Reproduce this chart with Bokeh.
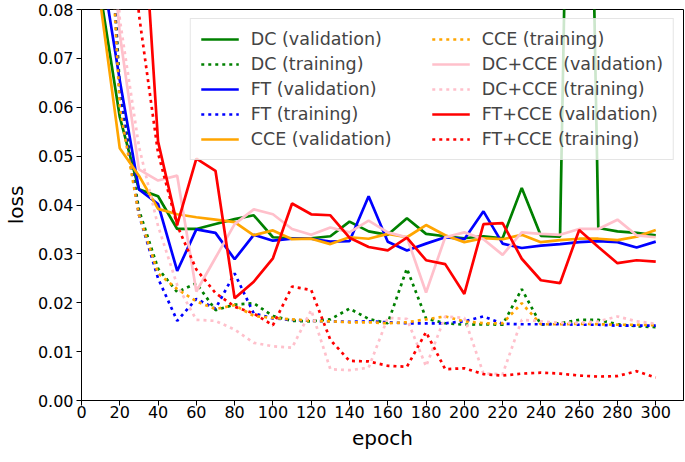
from bokeh.plotting import figure
from bokeh.models import Range1d, FixedTicker, PrintfTickFormatter, Legend, LegendItem
from bokeh.embed import file_html
from bokeh.resources import INLINE

epochs = [10, 20, 30, 40, 50, 60, 70, 80, 90, 100, 110, 120, 130, 140, 150,
          160, 170, 180, 190, 200, 210, 220, 230, 240, 250, 260, 270, 280, 290, 300]

dc_val = [0.083, 0.058, 0.0432, 0.0418, 0.0351, 0.0351, 0.0361, 0.0371, 0.0379, 0.0334,
          0.0332, 0.0332, 0.0336, 0.0366, 0.0346, 0.0339, 0.0373, 0.0341, 0.0336, 0.0332,
          0.0336, 0.0332, 0.0435, 0.0337, 0.0335, 0.25, 0.0353, 0.0346, 0.0343, 0.0338]
dc_train = [0.135, 0.064, 0.039, 0.027, 0.0222, 0.024, 0.0185, 0.0196, 0.0199, 0.0173,
            0.0163, 0.0162, 0.0166, 0.0188, 0.0167, 0.0158, 0.027, 0.0168, 0.0158, 0.0155,
            0.0156, 0.0155, 0.0228, 0.0155, 0.0158, 0.0165, 0.0165, 0.0156, 0.0152, 0.015]
ft_val = [0.09, 0.0655, 0.0432, 0.0402, 0.0265, 0.035, 0.0343, 0.0289, 0.0339, 0.0327,
          0.0331, 0.0331, 0.0325, 0.0326, 0.0418, 0.0325, 0.0307, 0.0321, 0.0334, 0.033,
          0.0387, 0.0321, 0.0312, 0.0317, 0.032, 0.0324, 0.0326, 0.0324, 0.0313, 0.0325]
ft_train = [0.135, 0.062, 0.038, 0.025, 0.0163, 0.0208, 0.0188, 0.026, 0.0178, 0.0168,
            0.0165, 0.0163, 0.0162, 0.0161, 0.0162, 0.016, 0.0158, 0.0158, 0.0158, 0.0162,
            0.0172, 0.0157, 0.0156, 0.0156, 0.0156, 0.0155, 0.0155, 0.0153, 0.0153, 0.0153]
cce_val = [0.081, 0.0516, 0.046, 0.0392, 0.0381, 0.0375, 0.037, 0.0365, 0.0338, 0.0348,
           0.033, 0.0331, 0.032, 0.0334, 0.0331, 0.0341, 0.0334, 0.0359, 0.0338, 0.0324,
           0.0332, 0.033, 0.0339, 0.0324, 0.0328, 0.0331, 0.0331, 0.0328, 0.0335, 0.0349]
cce_train = [0.135, 0.060, 0.038, 0.026, 0.0228, 0.0203, 0.0187, 0.0195, 0.0173, 0.0169,
             0.0166, 0.0163, 0.0162, 0.016, 0.016, 0.0158, 0.016, 0.0166, 0.0172, 0.0162,
             0.0158, 0.0158, 0.0199, 0.0156, 0.0156, 0.0157, 0.0156, 0.0155, 0.0155, 0.0154]
dccce_val = [0.12, 0.075, 0.0473, 0.045, 0.046, 0.0223, 0.0292, 0.0361, 0.0391, 0.0381,
             0.0351, 0.0339, 0.0354, 0.0344, 0.0368, 0.0344, 0.0334, 0.0221, 0.0334, 0.0344,
             0.033, 0.0298, 0.0344, 0.0341, 0.0339, 0.0351, 0.0351, 0.037, 0.0338, 0.0334]
dccce_train = [0.14, 0.078, 0.052, 0.0357, 0.0236, 0.0165, 0.0163, 0.0145, 0.0118, 0.0111,
               0.0108, 0.0185, 0.0064, 0.0062, 0.0067, 0.0169, 0.0167, 0.007, 0.0172, 0.0169,
               0.0055, 0.0054, 0.0165, 0.0162, 0.0159, 0.0159, 0.0162, 0.0172, 0.0162, 0.0157]
ftcce_val = [0.2, 0.16, 0.114, 0.053, 0.036, 0.0495, 0.047, 0.0209, 0.0243, 0.0291,
             0.0403, 0.0381, 0.0379, 0.0333, 0.0314, 0.0307, 0.0333, 0.0287, 0.0279, 0.0218,
             0.0361, 0.0363, 0.029, 0.0246, 0.024, 0.0349, 0.0314, 0.0281, 0.0287, 0.0284]
ftcce_train = [0.2, 0.13, 0.079, 0.0506, 0.0358, 0.0268, 0.022, 0.0192, 0.0178, 0.0154,
               0.0233, 0.0226, 0.0124, 0.0081, 0.008, 0.0071, 0.0069, 0.014, 0.0064, 0.0066,
               0.0054, 0.0051, 0.0055, 0.0057, 0.0055, 0.0051, 0.0049, 0.005, 0.006, 0.0047]

labels = ["DC (validation)", "DC (training)", "FT (validation)", "FT (training)",
          "CCE (validation)", "CCE (training)", "DC+CCE (validation)", "DC+CCE (training)",
          "FT+CCE (validation)", "FT+CCE (training)"]
series = [dc_val, dc_train, ft_val, ft_train, cce_val, cce_train,
          dccce_val, dccce_train, ftcce_val, ftcce_train]
colors = ["green", "green", "blue", "blue", "orange", "orange",
          "pink", "pink", "red", "red"]

x_ticks = [0, 20, 40, 60, 80, 100, 120, 140, 160, 180, 200, 220, 240, 260, 280, 300]
y_ticks = [0.0, 0.01, 0.02, 0.03, 0.04, 0.05, 0.06, 0.07, 0.08]

FONT = "DejaVu Sans"

p = figure(width=685, height=462, output_backend="svg", toolbar_location=None,
           x_range=Range1d(0, 314.5), y_range=Range1d(0, 0.08),
           min_border_left=80, min_border_right=2, min_border_top=9, min_border_bottom=62)
p.xgrid.visible = False
p.ygrid.visible = False
p.outline_line_color = "black"
p.outline_line_width = 1
p.outline_line_alpha = 1

for ax in (p.xaxis[0], p.yaxis[0]):
    ax.minor_tick_line_color = None
    ax.major_tick_out = 5
    ax.major_tick_in = 0
    ax.axis_line_color = "black"
    ax.major_tick_line_color = "black"
    ax.major_label_text_font = FONT
    ax.major_label_text_font_size = "16px"
    ax.major_label_text_color = "black"
    ax.axis_label_text_font = FONT
    ax.axis_label_text_font_size = "20px"
    ax.axis_label_text_font_style = "normal"
    ax.axis_label_text_color = "black"

p.xaxis.major_label_standoff = 0
p.xaxis.axis_label_standoff = 5
p.yaxis.major_label_standoff = 3
p.yaxis.axis_label_standoff = 7

p.xaxis.ticker = FixedTicker(ticks=x_ticks)
p.yaxis.ticker = FixedTicker(ticks=y_ticks)
p.yaxis.formatter = PrintfTickFormatter(format="%.2f")
p.xaxis.axis_label = "epoch"
p.yaxis.axis_label = "loss"

items = []
for lab, ys, col in zip(labels, series, colors):
    dash = "solid" if "validation" in lab else "3 4"
    r = p.line(epochs, ys, line_color=col, line_width=2.7, line_dash=dash)
    items.append(LegendItem(label=lab, renderers=[r]))

legend = Legend(items=items, location="top_right", nrows=5, ncols=2,
                label_text_font=FONT, label_text_font_size="17.5px",
                glyph_width=38, glyph_height=20, label_height=20, label_width=176,
                spacing=5, padding=10, margin=9, label_standoff=12,
                border_line_color="#cccccc", border_line_width=1,
                background_fill_color="white", background_fill_alpha=0.8)
p.add_layout(legend)

open("out.html", "w").write(file_html(p, INLINE))
